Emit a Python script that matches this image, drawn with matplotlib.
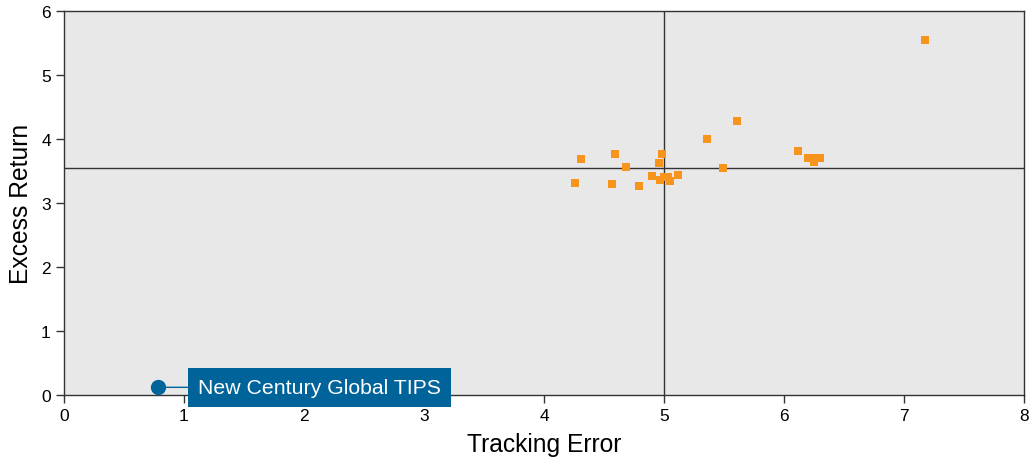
import numpy as np
import matplotlib.pyplot as plt

plt.rcParams['font.family'] = ['Liberation Sans', 'DejaVu Sans']

# peer funds (tracking error, excess return)
peer_te = [7.175, 5.61, 5.36, 6.12, 6.20, 6.25, 6.30, 6.25, 5.49,
           4.31, 4.59, 4.68, 4.985, 4.96, 4.26, 4.57, 4.79, 4.90,
           5.12, 5.05, 5.03, 5.0, 4.97]
peer_er = [5.55, 4.28, 4.00, 3.81, 3.71, 3.71, 3.71, 3.64, 3.54,
           3.68, 3.76, 3.56, 3.76, 3.62, 3.32, 3.30, 3.26, 3.42,
           3.43, 3.34, 3.41, 3.41, 3.36]

fund_name = "New Century Global TIPS"
fund_te = 0.78
fund_er = 0.12

median_te = 5.0
median_er = 3.55

fig = plt.figure(figsize=(10.29, 4.6), dpi=100)
ax = fig.add_axes([64/1029, 64/460, 960/1029, 384/460])
ax.set_facecolor('#e8e8e8')

ax.axvline(median_te, color='#333333', linewidth=1, zorder=1)
ax.axhline(median_er, color='#333333', linewidth=1, zorder=1)

ax.plot(peer_te, peer_er, 's', color='#f7941d', markersize=5.2,
        markeredgewidth=0, linestyle='none', zorder=3)

ax.plot(fund_te, fund_er, 'o', color='#00639a', markersize=10, zorder=4)
ax.annotate(fund_name, xy=(fund_te, fund_er), xytext=(1.115, fund_er),
            textcoords='data', va='center', ha='left', fontsize=15.3, color='white',
            bbox=dict(boxstyle='square,pad=0.48', fc='#00639a', ec='none'),
            arrowprops=dict(arrowstyle='-', color='#00639a', lw=1,
                            shrinkA=0, shrinkB=0), zorder=5)

ax.set_xlim(0, 8)
ax.set_ylim(0, 6)
ax.set_xticks(range(0, 9))
ax.set_yticks(range(0, 7))
ax.tick_params(direction='out', length=6, width=1, labelsize=12.5, color='#333333')
for s in ax.spines.values():
    s.set_color('#333333')
    s.set_linewidth(1)

ax.set_xlabel("Tracking Error", fontsize=17.7, labelpad=6)
ax.set_ylabel("Excess Return", fontsize=17.7, labelpad=6)

fig.savefig("out.png", dpi=100)
